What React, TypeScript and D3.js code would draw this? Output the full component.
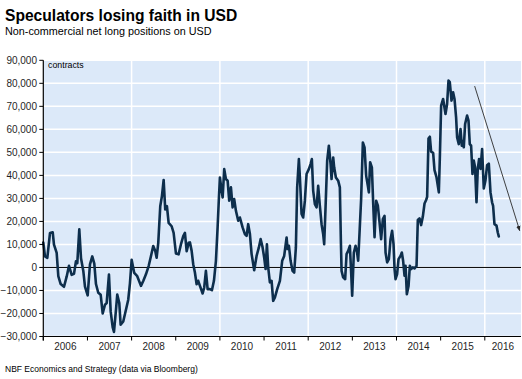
import React from 'react';
import * as d3 from 'd3';

const title = 'Speculators losing faith in USD';
const subtitle = 'Non-commercial net long positions on USD';
const unitLabel = 'contracts';
const source = 'NBF Economics and Strategy (data via Bloomberg)';

const yearTicks = [2006, 2007, 2008, 2009, 2010, 2011, 2012, 2013, 2014, 2015, 2016];
const gridYears = [2008, 2010, 2012, 2014, 2016];
const yTicks = [-30000, -20000, -10000, 0, 10000, 20000, 30000, 40000, 50000, 60000, 70000, 80000, 90000];

// decimal-year dates and net long positions (contracts)
const dates = [
  2006.000, 2006.038, 2006.091, 2006.152, 2006.213, 2006.242, 2006.303, 2006.340, 2006.394, 2006.469,
  2006.530, 2006.582, 2006.643, 2006.695, 2006.740, 2006.770, 2006.815, 2006.854, 2006.906, 2006.944,
  2007.005, 2007.057, 2007.109, 2007.155, 2007.193, 2007.245, 2007.300, 2007.345, 2007.397, 2007.435,
  2007.487, 2007.526, 2007.571, 2007.601, 2007.646, 2007.675, 2007.721, 2007.752, 2007.811, 2007.872,
  2007.924, 2007.963, 2008.001, 2008.060, 2008.128, 2008.212, 2008.264, 2008.325, 2008.386, 2008.438,
  2008.490, 2008.536, 2008.567, 2008.604, 2008.649, 2008.687, 2008.726, 2008.762, 2008.800, 2008.839,
  2008.907, 2008.952, 2009.004, 2009.065, 2009.117, 2009.170, 2009.208, 2009.247, 2009.292, 2009.321,
  2009.360, 2009.396, 2009.434, 2009.473, 2009.509, 2009.548, 2009.609, 2009.645, 2009.683, 2009.722,
  2009.774, 2009.819, 2009.865, 2009.910, 2009.948, 2009.978, 2010.000, 2010.039, 2010.062, 2010.098,
  2010.136, 2010.175, 2010.211, 2010.250, 2010.288, 2010.324, 2010.363, 2010.415, 2010.453, 2010.514,
  2010.566, 2010.605, 2010.641, 2010.680, 2010.718, 2010.777, 2010.831, 2010.883, 2010.922, 2010.967,
  2011.003, 2011.035, 2011.065, 2011.094, 2011.132, 2011.171, 2011.207, 2011.246, 2011.298, 2011.359,
  2011.411, 2011.456, 2011.511, 2011.533, 2011.563, 2011.601, 2011.646, 2011.683, 2011.721, 2011.750,
  2011.789, 2011.812, 2011.850, 2011.886, 2011.925, 2011.963, 2012.015, 2012.054, 2012.083, 2012.113,
  2012.151, 2012.190, 2012.226, 2012.264, 2012.303, 2012.339, 2012.362, 2012.393, 2012.430, 2012.468,
  2012.507, 2012.529, 2012.566, 2012.588, 2012.627, 2012.679, 2012.717, 2012.740, 2012.756, 2012.792,
  2012.837, 2012.869, 2012.905, 2012.944, 2012.973, 2012.996, 2013.034, 2013.073, 2013.102, 2013.132,
  2013.163, 2013.199, 2013.238, 2013.276, 2013.313, 2013.351, 2013.374, 2013.403, 2013.442, 2013.471,
  2013.503, 2013.539, 2013.578, 2013.616, 2013.652, 2013.691, 2013.729, 2013.752, 2013.788, 2013.827,
  2013.865, 2013.901, 2013.933, 2013.956, 2013.978, 2014.014, 2014.046, 2014.091, 2014.121, 2014.150,
  2014.182, 2014.205, 2014.234, 2014.273, 2014.302, 2014.331, 2014.370, 2014.408, 2014.454, 2014.483,
  2014.521, 2014.558, 2014.596, 2014.635, 2014.671, 2014.694, 2014.725, 2014.755, 2014.784, 2014.830,
  2014.861, 2014.907, 2014.959, 2014.981, 2015.011, 2015.056, 2015.110, 2015.146, 2015.178, 2015.207,
  2015.246, 2015.282, 2015.314, 2015.350, 2015.373, 2015.411, 2015.450, 2015.479, 2015.509, 2015.524,
  2015.554, 2015.599, 2015.631, 2015.660, 2015.690, 2015.721, 2015.751, 2015.780, 2015.812, 2015.841,
  2015.871, 2015.903, 2015.939, 2015.977, 2016.016, 2016.052, 2016.091, 2016.129, 2016.165, 2016.188,
  2016.219, 2016.265, 2016.294, 2016.317,
];

const netLong = [
  10800, 4800, 4200, 15000, 15300, 9900, 6300, -3800, -7200, -8400,
  -3900, 700, -3200, -2800, 2700, 1900, 16600, 4000, -1500, -8300,
  -12100, 1300, 4800, 1700, -7200, -11000, -11900, -20000, -16200, -15500,
  -3100, -19100, -25900, -28000, -18400, -11800, -15500, -24900, -23500, -18400,
  -14000, -6800, 3300, -2400, -3800, -8000, -5900, -3000, 600, 4900,
  9300, 7100, 4200, 10700, 26600, 31000, 38000, 25200, 26600, 19400,
  17900, 15000, 6100, 5700, 10000, 13600, 15000, 7100, 10700, 10900,
  7200, 1400, -2200, -7300, -5800, -8000, -11300, -8700, -1500, -9400,
  -9400, -9900, -5800, 2900, 17400, 30400, 39100, 33300, 30400, 42700,
  38400, 37700, 29000, 34800, 26100, 29700, 24600, 20300, 21700, 17400,
  14500, 13700, 18800, 14500, 5800, -1200, 5000, 8700, 12300, 8700,
  4300, -700, 10100, 0, -6500, -5800, -14500, -13000, -9400, -5800,
  2900, 5000, 13000, 8000, 9400, 2900, -1500, -2200, 8700, 34800,
  47100, 39100, 23200, 21700, 29000, 40600, 42700, 44900, 47100, 33300,
  27500, 26100, 35500, 26800, 18800, 14500, 10100, 26100, 46400, 52900,
  44900, 38400, 47800, 43500, 39100, 37700, 34800, 11600, -1500, -4300,
  -5100, 5800, 7200, 9400, -2200, -12300, 6500, 9400, 7200, 2900,
  15200, 29700, 54300, 52200, 39800, 35500, 32600, 45700, 43500, 28300,
  13100, 29000, 26800, 19600, 12300, 21000, 22400, 6500, 2200, 3600,
  12300, 15900, 10100, -700, -5100, -2900, 3600, 5000, 6500, 2900,
  -3600, 700, -11600, -8000, 700, -700, 0, -400, 700, 20600,
  21300, 18400, 22000, 27800, 29300, 30700, 56000, 56800, 50300, 49800,
  42300, 39100, 32600, 47100, 70300, 73200, 66700, 71000, 81200, 80500,
  72500, 76100, 73200, 65200, 56500, 53600, 60100, 52900, 55000, 52200,
  62300, 66000, 63800, 53600, 52900, 40600, 46400, 43500, 28300, 42800,
  47100, 42800, 51400, 34300, 37900, 44400, 45100, 32600, 28300, 26800,
  18800, 18200, 15200, 13500,
];

// trend arrow annotation (decimal year, contracts)
const arrowFrom = [2015.77, 78800];
const arrowTo = [2016.79, 16000];

const W = 522;
const H = 379;
const plot = { left: 43.3, right: 521, top: 60.3, bottom: 336.5 };
const xDomainEnd = 2016.82;

export default function App() {
  const x = d3.scaleLinear().domain([2006, xDomainEnd]).range([plot.left, plot.right]);
  const y = d3.scaleLinear().domain([-30000, 90000]).range([plot.bottom, plot.top]);
  const fmt = d3.format(',');

  const pts: [number, number][] = dates.map((d, i) => [d, netLong[i]]);
  const line = d3
    .line<[number, number]>()
    .x((d) => x(d[0]))
    .y((d) => y(d[1]))(pts) as string;

  const font = "'Liberation Sans', Arial, Helvetica, sans-serif";
  const textColor = '#1f1f1f';

  return (
    <svg
      width={W}
      height={H}
      viewBox={`0 0 ${W} ${H}`}
      style={{ position: 'absolute', left: 0, top: 0, background: '#ffffff' }}
      fontFamily={font}
    >
      <defs>
        <marker id="ah" viewBox="0 0 10 10" refX="9" refY="5" markerWidth="6" markerHeight="6" orient="auto">
          <path d="M0,1 L10,5 L0,9 Z" fill="#2b2b2b" />
        </marker>
      </defs>
      <text x={5} y={21} fontSize={15.6} fontWeight="bold" fill="#000">
        {title}
      </text>
      <text x={5} y={34.5} fontSize={10.8} fill="#000">
        {subtitle}
      </text>

      <rect
        x={plot.left}
        y={plot.top}
        width={plot.right - plot.left}
        height={plot.bottom - plot.top}
        fill="#dce9f9"
      />
      {yTicks.map((t) => (
        <line
          key={'gy' + t}
          x1={plot.left}
          x2={plot.right}
          y1={y(t)}
          y2={y(t)}
          stroke="#ffffff"
          strokeWidth={1.5}
        />
      ))}
      {gridYears.map((g) => (
        <line
          key={'gx' + g}
          x1={x(g)}
          x2={x(g)}
          y1={plot.top}
          y2={plot.bottom}
          stroke="#ffffff"
          strokeWidth={1.5}
        />
      ))}
      <line x1={plot.left} x2={plot.right} y1={y(0)} y2={y(0)} stroke="#000" strokeWidth={1} />

      <path d={line} fill="none" stroke="#0d2e4c" strokeWidth={2.6} strokeLinejoin="round" strokeLinecap="round" />

      <line
        x1={x(arrowFrom[0])}
        y1={y(arrowFrom[1])}
        x2={x(arrowTo[0])}
        y2={y(arrowTo[1])}
        stroke="#2b2b2b"
        strokeWidth={0.9}
        markerEnd="url(#ah)"
      />

      <text x={48} y={67.5} fontSize={8.8} fill="#000">
        {unitLabel}
      </text>

      {/* axes */}
      <line x1={plot.left} x2={plot.left} y1={plot.top} y2={plot.bottom + 4} stroke="#000" strokeWidth={1.2} />
      <line x1={plot.left} x2={plot.right} y1={plot.bottom} y2={plot.bottom} stroke="#000" strokeWidth={1.2} />
      {yTicks.map((t) => (
        <g key={'yt' + t}>
          <line x1={plot.left - 4} x2={plot.left} y1={y(t)} y2={y(t)} stroke="#000" strokeWidth={1} />
          <text x={37} y={y(t)} dy="0.35em" textAnchor="end" fontSize={10} fill={textColor}>
            {fmt(t)}
          </text>
        </g>
      ))}
      {yearTicks.map((yr) => {
        const next = Math.min(yr + 1, xDomainEnd);
        return (
          <g key={'xt' + yr}>
            <line x1={x(yr)} x2={x(yr)} y1={plot.bottom} y2={plot.bottom + 4} stroke="#000" strokeWidth={1} />
            <text x={(x(yr) + x(next)) / 2} y={350} textAnchor="middle" fontSize={10} fill={textColor}>
              {String(yr)}
            </text>
          </g>
        );
      })}

      <text x={5} y={372} fontSize={8.5} fill="#000">
        {source}
      </text>
    </svg>
  );
}
